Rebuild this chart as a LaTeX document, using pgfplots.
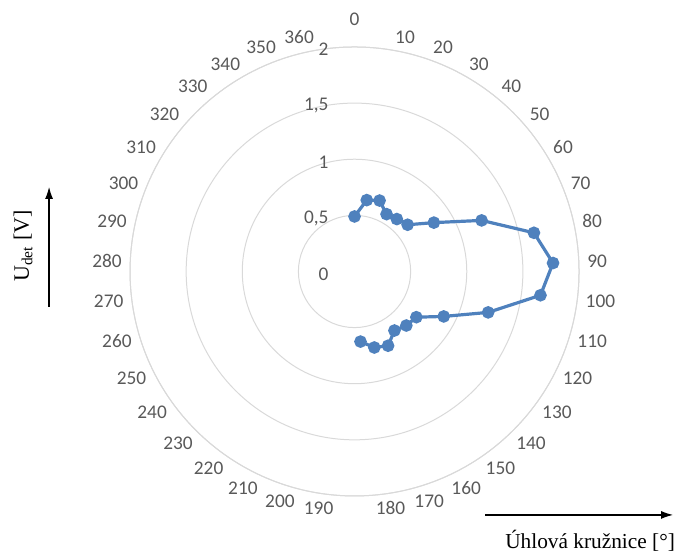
\documentclass[border=0pt]{standalone}
\usepackage{pgfplots}
\pgfplotsset{compat=1.18}
\usepgfplotslibrary{polar}
\usetikzlibrary{arrows.meta}
\usepackage{fontspec}
\setmainfont{Liberation Serif}
\newfontfamily\calibri{Carlito}
\definecolor{tickgray}{HTML}{595959}
\definecolor{gridgray}{HTML}{D9D9D9}
\definecolor{serblue}{HTML}{4F81BD}
\begin{document}
\begin{tikzpicture}
\path[use as bounding box] (-265.9pt,-210.4pt) rectangle (247.1pt,203.6pt);
\begin{polaraxis}[
 at={(0pt,0pt)}, anchor=center,
 width=336.75pt, height=336.75pt, scale only axis,
 xmin=90, xmax=450, ymin=0, ymax=2,
 xtick=\empty,
 ytick={0,0.5,1,1.5,2},
 yticklabels={0,{0,5},1,{1,5},2},
 xmajorgrids=false, ymajorgrids=true,
 grid style={gridgray, line width=0.75pt},
 axis line style={gridgray, line width=0.75pt},
 y axis line style={draw=none},
 major tick length=0pt,
 tick label style={font=\calibri\fontsize{14.5}{16}\selectfont, text=tickgray},
 yticklabel style={anchor=east, xshift=-16pt, yshift=-2pt},
 clip=false,
]
\addplot[serblue, line width=2.4pt, mark=*, mark size=3.5pt,
  mark options={fill=serblue, draw=serblue},
  x filter/.expression={450-x*360/37}] coordinates {
 (0,0.49)(1,0.645)(2,0.67)(3,0.585)(4,0.60)(5,0.63)(6,0.83)(7,1.22)(8,1.635)(9,1.77)
 (10,1.67)(11,1.245)(12,0.89)(13,0.685)(14,0.667)(15,0.635)(16,0.726)(17,0.70)(18,0.627)
};
\end{polaraxis}
% category labels around the circle (angle axis)
\begin{scope}[every node/.style={font=\calibri\fontsize{14.5}{16}\selectfont, text=tickgray, inner sep=1pt}]
\node[anchor=south] at (0pt,183pt) {0};
\foreach \i in {1,...,18}{
  \pgfmathtruncatemacro{\lab}{\i*10}
  \node[anchor=west, yshift={4.5pt*cos(\i*360/37)}] at ({90-\i*360/37}:173.6pt) {\lab};
}
\foreach \i in {19,...,36}{
  \pgfmathtruncatemacro{\lab}{\i*10}
  \node[anchor=east, yshift={4.5pt*cos(\i*360/37)}] at ({90-\i*360/37}:173.6pt) {\lab};
}
\end{scope}
\draw[-{Latex[length=9pt,width=6pt]}, line width=0.9pt] (-229.1pt,-26.6pt) -- (-229.1pt,63.4pt);
\node[rotate=90, font=\fontsize{16.5}{20}\selectfont, inner sep=0pt] at (-248.6pt,19.1pt) {U\textsubscript{det} [V]};
\draw[-{Latex[length=9pt,width=6pt]}, line width=0.9pt] (97.9pt,-182.6pt) -- (238.9pt,-182.6pt);
\node[anchor=base east, font=\fontsize{16}{20}\selectfont, inner sep=0pt] at (240.5pt,-207.8pt) {Úhlová kružnice [°]};
\end{tikzpicture}
\end{document}
